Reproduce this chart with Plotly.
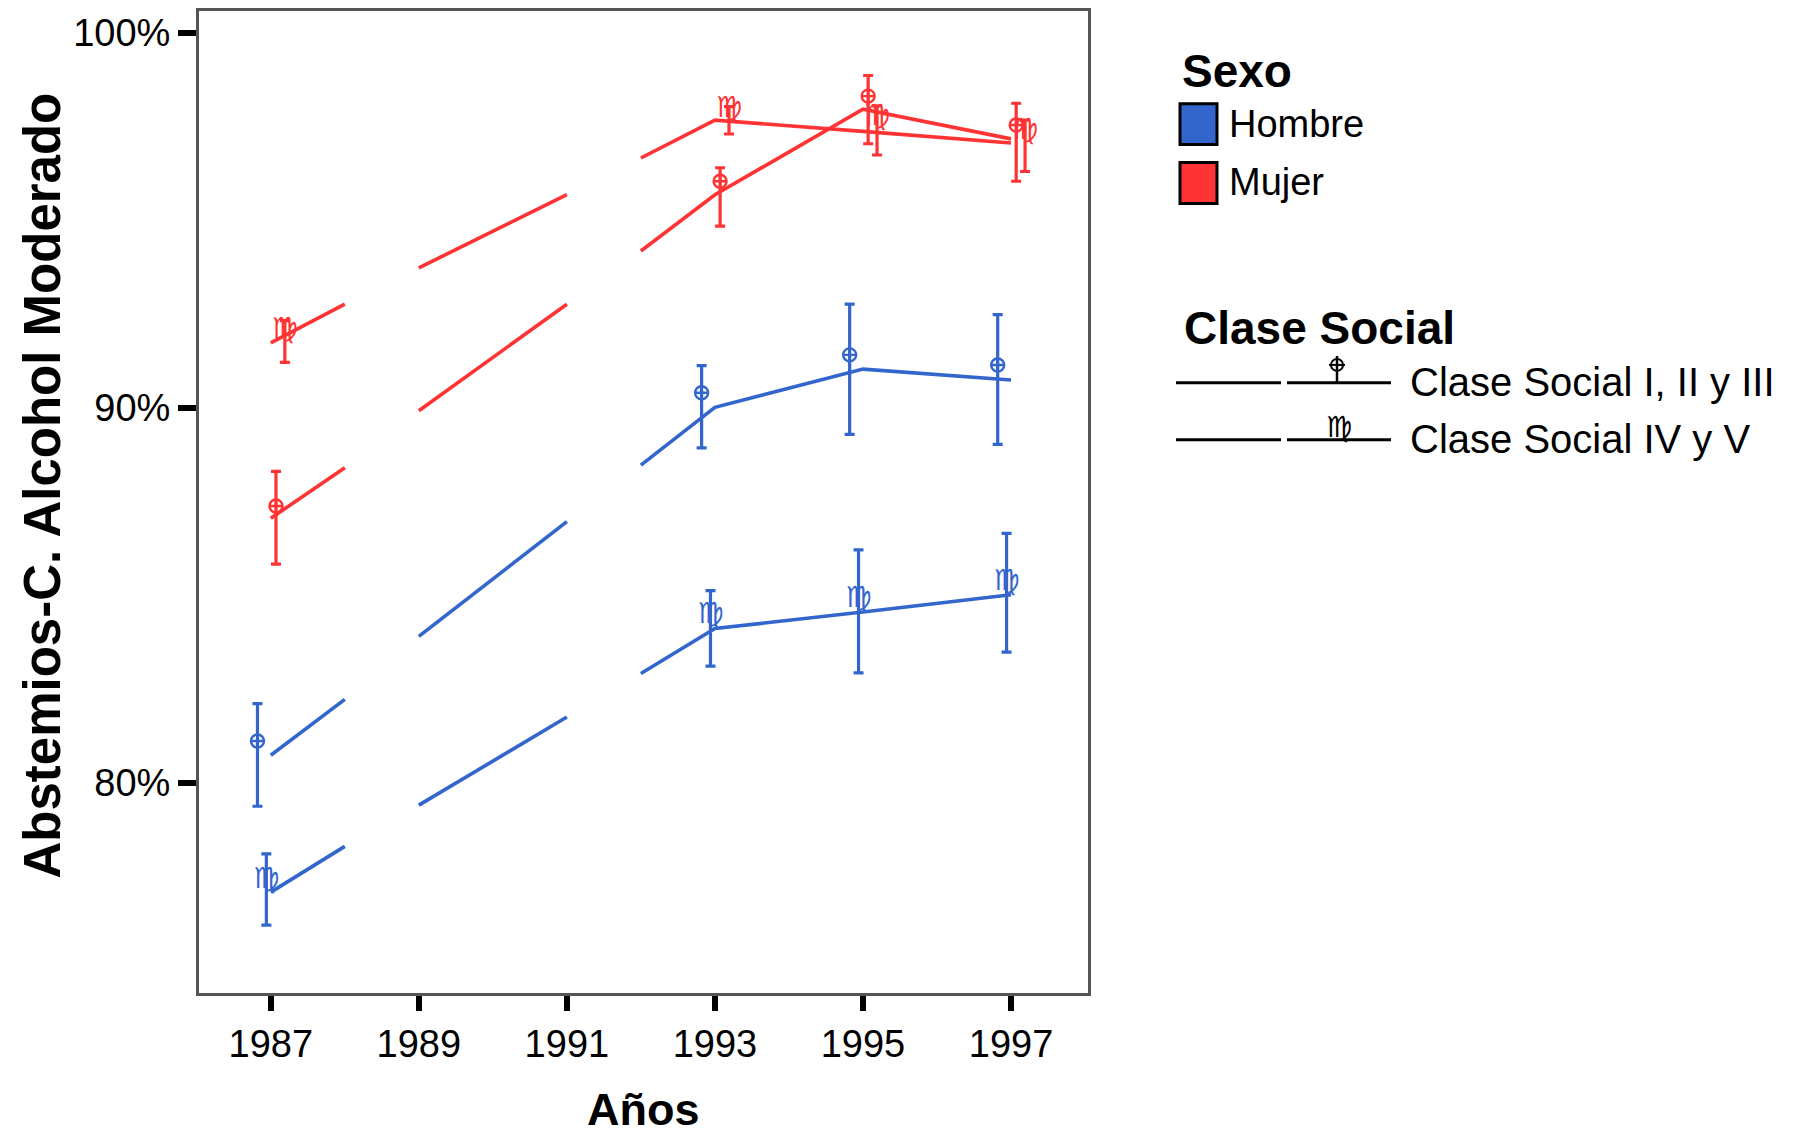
import plotly.graph_objects as go

# ---------------- data ----------------
years_obs = [1987, 1993, 1995, 1997]
year_ticks = [1987, 1989, 1991, 1993, 1995, 1997]
y_tickvals = [80, 90, 100]
y_ticktext = ["80%", "90%", "100%"]

# observed proportions (%) with confidence limits
hombre_I_III = [81.11, 90.40, 91.41, 91.14]
hombre_I_III_lo = [79.37, 88.93, 89.29, 89.02]
hombre_I_III_hi = [82.11, 91.12, 92.76, 92.48]

hombre_IV_V = [77.39, 84.44, 84.88, 85.32]
hombre_IV_V_lo = [76.20, 83.11, 82.93, 83.48]
hombre_IV_V_hi = [78.10, 85.12, 86.21, 86.65]

mujer_I_III = [87.38, 96.04, 98.31, 97.54]
mujer_I_III_lo = [85.83, 94.84, 97.04, 96.04]
mujer_I_III_hi = [88.30, 96.40, 98.86, 98.12]

mujer_IV_V = [92.05, 97.94, 97.72, 97.37]
mujer_IV_V_lo = [91.21, 97.30, 96.74, 96.30]
mujer_IV_V_hi = [92.32, 98.03, 98.05, 97.67]

# fitted lines (segments separated by None)
years_fit = [1987, 1988, None, 1989, 1991, None, 1992, 1993, 1995, 1997]
hombre_I_III_fit = [80.73, 82.22, None, 83.90, 86.96, None, 88.47, 90.01, 91.03, 90.74]
hombre_IV_V_fit = [77.08, 78.30, None, 79.40, 81.75, None, 82.91, 84.11, 84.55, 85.01]
mujer_I_III_fit = [87.05, 88.40, None, 89.92, 92.76, None, 94.18, 95.68, 97.96, 97.17]
mujer_IV_V_fit = [91.73, 92.76, None, 93.73, 95.68, None, 96.66, 97.67, 97.37, 97.06]

sexo_labels = ["Hombre", "Mujer"]
clase_labels = ["Clase Social I, II y III", "Clase Social IV y V"]

# ---------------- style ----------------
BLUE = "#3366CC"
RED = "#FF3333"
VIRGO = "\u264D"
# horizontal dodge of the point groups (years)
dodge = {"h13": -0.18, "h45": -0.06, "m13": 0.07, "m45": 0.19}

OFF = 8  # page body margin
W, H = 1794 - OFF, 1141 - OFF
L, R, T, B = 199 - OFF, 1088 - OFF, 0, 993 - OFF  # plot frame in figure pixels


def px2x(px):  # px given in reference-image pixels
    return (px - OFF - L) / (R - L)


def py2y(py):
    return (B - (py - OFF)) / (B - T)


fig = go.Figure()

for fit, col in [(hombre_I_III_fit, BLUE), (hombre_IV_V_fit, BLUE),
                 (mujer_I_III_fit, RED), (mujer_IV_V_fit, RED)]:
    fig.add_trace(go.Scatter(x=years_fit, y=fit, mode="lines", connectgaps=False,
                             line=dict(color=col, width=3.6), showlegend=False,
                             hoverinfo="skip"))


def err(vals, lo, hi):
    return ([h - v for v, h in zip(vals, hi)], [v - l for v, l in zip(vals, lo)])


def add_points(vals, lo, hi, col, key, glyph):
    xs = [y + dodge[key] for y in years_obs]
    up, dn = err(vals, lo, hi)
    ey = dict(type="data", array=up, arrayminus=dn, color=col, thickness=3.2, width=5)
    if glyph:
        fig.add_trace(go.Scatter(x=xs, y=vals, mode="text", text=[VIRGO] * len(xs),
                                 textposition="middle center",
                                 textfont=dict(family="DejaVu Sans", size=29, color=col),
                                 error_y=ey, showlegend=False, cliponaxis=False))
    else:
        fig.add_trace(go.Scatter(x=xs, y=vals, mode="markers",
                                 marker=dict(symbol="circle-cross-open", size=13,
                                             color=col, line=dict(color=col, width=2.4)),
                                 error_y=ey, showlegend=False, cliponaxis=False))


add_points(hombre_I_III, hombre_I_III_lo, hombre_I_III_hi, BLUE, "h13", False)
add_points(hombre_IV_V, hombre_IV_V_lo, hombre_IV_V_hi, BLUE, "h45", True)
add_points(mujer_I_III, mujer_I_III_lo, mujer_I_III_hi, RED, "m13", False)
add_points(mujer_IV_V, mujer_IV_V_lo, mujer_IV_V_hi, RED, "m45", True)

TICKFONT = dict(family="Liberation Sans, Arial", size=38, color="black")

fig.update_layout(
    width=W, height=H,
    margin=dict(l=L, r=W - R, t=T, b=H - B, pad=0),
    paper_bgcolor="white", plot_bgcolor="white",
    showlegend=False,
    font=dict(family="Liberation Sans, Arial", color="black"),
)
fig.update_xaxes(range=[1986.03, 1998.04], tickvals=year_ticks, ticktext=[str(y) for y in year_ticks],
                 ticks="outside", ticklen=15, tickwidth=6, tickcolor="black",
                 showline=True, linecolor="#555555", linewidth=3, mirror=True,
                 showgrid=False, zeroline=False, tickfont=TICKFONT)
fig.update_yaxes(range=[74.39, 100.58], tickvals=y_tickvals, ticktext=y_ticktext,
                 ticks="outside", ticklen=18, tickwidth=6, tickcolor="black",
                 showline=True, linecolor="#555555", linewidth=3, mirror=True,
                 showgrid=False, zeroline=False, tickfont=TICKFONT)

ann = []
shapes = []
# axis titles
ann.append(dict(text="<b>Abstemios-C. Alcohol Moderado</b>", x=px2x(43), y=py2y(484),
                xref="paper", yref="paper", textangle=-90, showarrow=False,
                xanchor="center", yanchor="middle",
                font=dict(family="Liberation Sans", size=51, color="black")))
ann.append(dict(text="<b>Años</b>", x=0.5, y=py2y(1110), xref="paper", yref="paper",
                showarrow=False, xanchor="center", yanchor="middle",
                font=dict(family="Liberation Sans", size=45, color="black")))

# legend: Sexo
ann.append(dict(text="<b>Sexo</b>", x=px2x(1180), y=py2y(68), xref="paper", yref="paper",
                showarrow=False, xanchor="left", yanchor="middle",
                font=dict(family="Liberation Sans", size=46, color="black")))
for i, (lab, col) in enumerate(zip(sexo_labels, [BLUE, RED])):
    y0 = 101 + i * 59
    shapes.append(dict(type="rect", xref="paper", yref="paper",
                       x0=px2x(1180), x1=px2x(1217), y0=py2y(y0), y1=py2y(y0 + 41),
                       fillcolor=col, line=dict(color="black", width=3)))
    ann.append(dict(text=lab, x=px2x(1227), y=py2y(y0 + 20), xref="paper", yref="paper",
                    showarrow=False, xanchor="left", yanchor="middle",
                    font=dict(family="Liberation Sans", size=38, color="black")))

# legend: Clase Social
ann.append(dict(text="<b>Clase Social</b>", x=px2x(1182), y=py2y(326), xref="paper", yref="paper",
                showarrow=False, xanchor="left", yanchor="middle",
                font=dict(family="Liberation Sans", size=46, color="black")))
for i, lab in enumerate(clase_labels):
    ly = 381 + i * 57
    for xa, xb in [(1176, 1281), (1287, 1391)]:
        shapes.append(dict(type="line", xref="paper", yref="paper",
                           x0=px2x(xa), x1=px2x(xb), y0=py2y(ly), y1=py2y(ly),
                           line=dict(color="black", width=3)))
    ann.append(dict(text=lab, x=px2x(1408), y=py2y(ly - 1), xref="paper", yref="paper",
                    showarrow=False, xanchor="left", yanchor="middle",
                    font=dict(family="Liberation Sans", size=40, color="black")))
    if i == 0:
        cx, cy, r = 1337, 363, 6
        shapes.append(dict(type="circle", xref="paper", yref="paper",
                           x0=px2x(cx - r), x1=px2x(cx + r), y0=py2y(cy - r), y1=py2y(cy + r),
                           line=dict(color="black", width=2)))
        shapes.append(dict(type="line", xref="paper", yref="paper",
                           x0=px2x(cx - 8), x1=px2x(cx + 8), y0=py2y(cy), y1=py2y(cy),
                           line=dict(color="black", width=2)))
        shapes.append(dict(type="line", xref="paper", yref="paper",
                           x0=px2x(cx), x1=px2x(cx), y0=py2y(cy - 9), y1=py2y(ly),
                           line=dict(color="black", width=2.5)))
    else:
        ann.append(dict(text=VIRGO, x=px2x(1339), y=py2y(425), xref="paper", yref="paper",
                        showarrow=False, xanchor="center", yanchor="middle",
                        font=dict(family="DejaVu Sans", size=29, color="black")))

fig.update_layout(annotations=ann, shapes=shapes)
fig.write_html("out.html")
